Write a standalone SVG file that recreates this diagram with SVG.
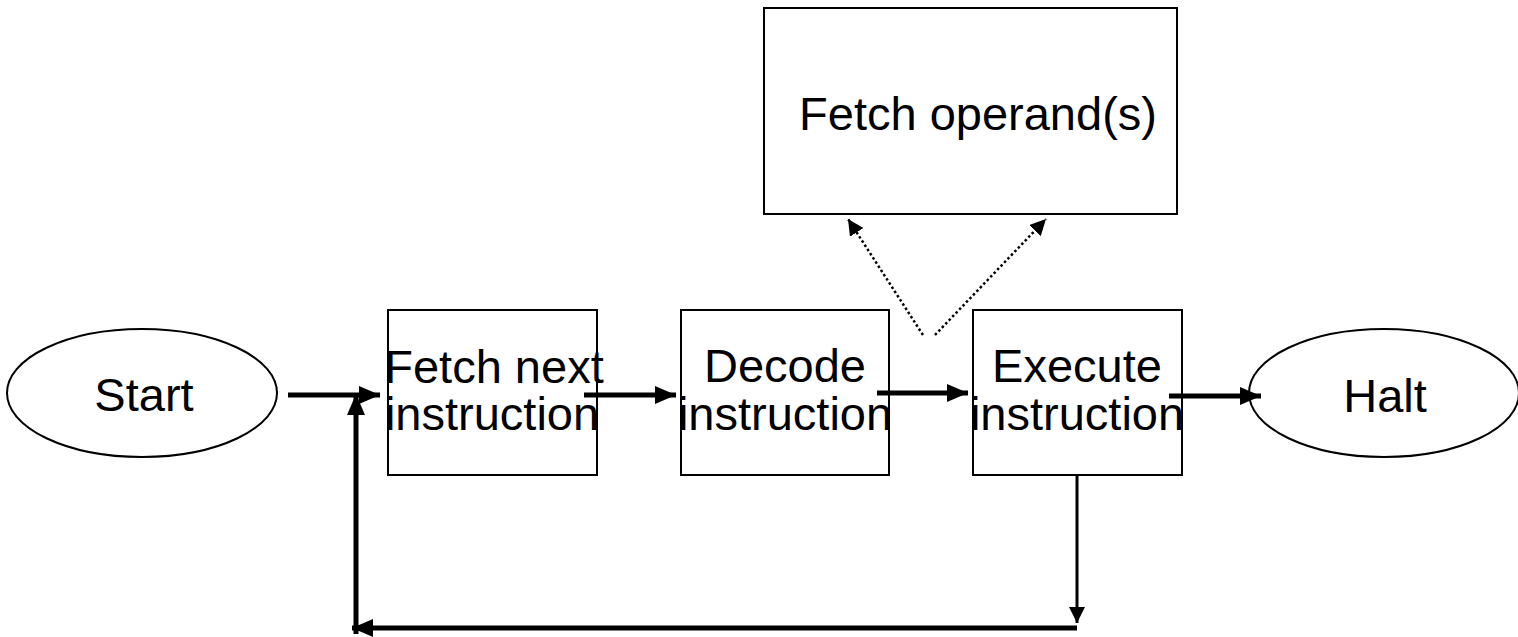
<svg xmlns="http://www.w3.org/2000/svg" width="1518" height="637" viewBox="0 0 1518 637">
  <style>
    .box { fill: #ffffff; stroke: #000000; stroke-width: 2; }
    .lbl { font-family: "Liberation Sans", Arial, sans-serif; font-size: 47px; fill: #000000; text-anchor: middle; }
    .thick { stroke: #000000; stroke-width: 5; fill: none; }
    .thin { stroke: #000000; stroke-width: 3; fill: none; }
    .dot { stroke: #000000; stroke-width: 2.5; stroke-dasharray: 2.5 2.5; fill: none; }
  </style>
  <defs>
    <marker id="ah" markerUnits="userSpaceOnUse" markerWidth="21" markerHeight="18" refX="21" refY="9" orient="auto">
      <path d="M0,0 L21,9 L0,18 z" fill="#000000"/>
    </marker>
    <marker id="ahs" markerUnits="userSpaceOnUse" markerWidth="16" markerHeight="16" refX="16" refY="8" orient="auto">
      <path d="M0,0 L16,8 L0,16 z" fill="#000000"/>
    </marker>
  </defs>
  <rect width="1518" height="637" fill="#ffffff"/>

  <g id="start">
    <ellipse class="box" cx="142" cy="393" rx="135" ry="64"/>
    <text class="lbl" x="144" y="411">Start</text>
  </g>
  <g id="fetch-next">
    <rect class="box" x="388" y="310" width="209" height="165"/>
    <text class="lbl"><tspan x="494" y="383">Fetch next</tspan><tspan x="492" y="430">instruction</tspan></text>
  </g>
  <g id="decode">
    <rect class="box" x="681" y="310" width="208" height="165"/>
    <text class="lbl"><tspan x="785" y="382">Decode</tspan><tspan x="785" y="430">instruction</tspan></text>
  </g>
  <g id="execute">
    <rect class="box" x="973" y="310" width="209" height="165"/>
    <text class="lbl"><tspan x="1077" y="382">Execute</tspan><tspan x="1077" y="430">instruction</tspan></text>
  </g>
  <g id="fetch-operands">
    <rect class="box" x="764" y="8" width="413" height="206"/>
    <text class="lbl" x="978" y="130">Fetch operand(s)</text>
  </g>
  <g id="halt">
    <ellipse class="box" cx="1384" cy="393" rx="135" ry="64"/>
    <text class="lbl" x="1385" y="412">Halt</text>
  </g>

  <g id="connectors">
    <line class="thick" x1="288" y1="395" x2="380" y2="395" marker-end="url(#ah)"/>
    <line class="thick" x1="584" y1="395" x2="676" y2="395" marker-end="url(#ah)"/>
    <line class="thick" x1="877" y1="393" x2="968" y2="393" marker-end="url(#ah)"/>
    <line class="thick" x1="1169" y1="396" x2="1261" y2="396" marker-end="url(#ah)"/>
    <line class="thin" x1="1077" y1="475" x2="1077" y2="623" marker-end="url(#ahs)"/>
    <line class="thick" x1="1077" y1="628" x2="352" y2="628" marker-end="url(#ah)"/>
    <line class="thick" x1="356" y1="634" x2="356" y2="394" marker-end="url(#ah)"/>
    <line class="dot" x1="923" y1="335" x2="848" y2="219" marker-end="url(#ahs)"/>
    <line class="dot" x1="935" y1="335" x2="1046" y2="219" marker-end="url(#ahs)"/>
  </g>
</svg>
